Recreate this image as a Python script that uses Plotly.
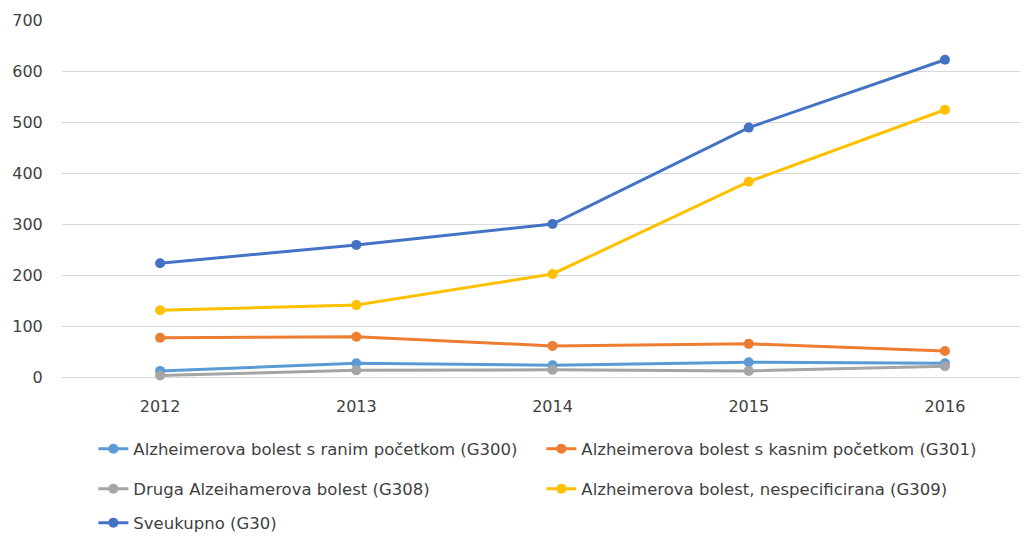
import plotly.graph_objects as go

years = ["2012", "2013", "2014", "2015", "2016"]
rani = [12, 27, 23, 29, 27]
kasni = [77, 79, 61, 65, 51]
druga = [3, 13, 14, 12, 21]
nespec = [131, 141, 202, 383, 524]
ukupno = [223, 259, 300, 489, 622]

names = [
    "Alzheimerova bolest s ranim početkom (G300)",
    "Alzheimerova bolest s kasnim početkom (G301)",
    "Druga Alzeihamerova bolest (G308)",
    "Alzheimerova bolest, nespecificirana (G309)",
    "Sveukupno (G30)",
]
series = [rani, kasni, druga, nespec, ukupno]
colors = ["#5B9BD5", "#ED7D31", "#A5A5A5", "#FFC000", "#4472C4"]
legends = ["legend", "legend", "legend2", "legend2", "legend3"]

fig = go.Figure()
for n, s, c, lg in zip(names, series, colors, legends):
    fig.add_trace(go.Scatter(
        x=years, y=s, name=n, mode="lines+markers",
        line=dict(color=c, width=3), marker=dict(color=c, size=10),
        cliponaxis=False, legend=lg,
    ))

font = dict(family="DejaVu Sans, sans-serif", size=16, color="#3F3F3F")
legfont = dict(family="DejaVu Sans, sans-serif", size=16.5, color="#3F3F3F")

leg_common = dict(orientation="h", xanchor="left", yanchor="middle",
                  font=legfont, bgcolor="rgba(0,0,0,0)", entrywidth=403,
                  entrywidthmode="pixels", itemclick=False)

fig.update_layout(
    width=1028, height=536,
    margin=dict(l=54, r=0, t=12, b=167, autoexpand=False),
    paper_bgcolor="white", plot_bgcolor="white",
    font=font,
    showlegend=True,
    legend=dict(x=0.0322, y=-0.2017, **leg_common),
    legend2=dict(x=0.0322, y=-0.3137, **leg_common),
    legend3=dict(x=0.0322, y=-0.409, **leg_common),
    xaxis=dict(
        type="category", range=[-0.5, 4.464], showgrid=False, showline=False,
        ticks="outside", ticklen=15, tickcolor="rgba(0,0,0,0)",
        tickfont=font, zeroline=False,
    ),
    yaxis=dict(
        range=[0, 700], dtick=100, showgrid=True, gridcolor="#D9D9D9", gridwidth=1,
        zeroline=True, zerolinecolor="#D9D9D9", zerolinewidth=1, showline=False,
        ticks="outside", ticklen=15, tickcolor="rgba(0,0,0,0)", tickfont=font,
    ),
)

fig.write_html("out.html")
